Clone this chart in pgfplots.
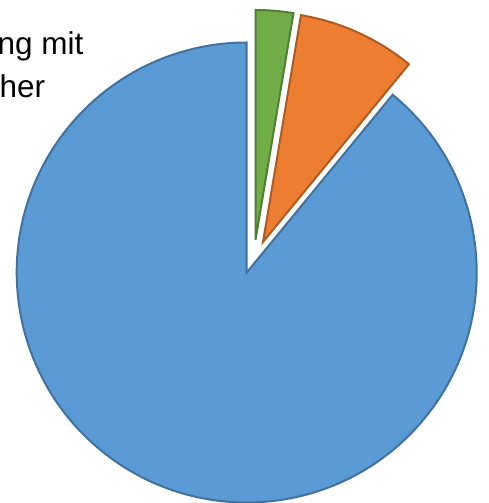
\documentclass[border=0pt]{standalone}
\usepackage{pgfplots}
\pgfplotsset{compat=1.18}
\usepackage{fontspec}
\setmainfont{Liberation Sans}
\definecolor{sblue}{HTML}{5B9BD5}
\definecolor{sorange}{HTML}{ED7D31}
\definecolor{sgreen}{HTML}{70AD47}
\definecolor{bblue}{HTML}{41719C}
\definecolor{borange}{HTML}{AE5A21}
\definecolor{bgreen}{HTML}{507E32}
% slice shares in percent (clockwise from 12 o'clock)
\def\pGreen{2.64}
\def\pOrange{8.30}
\def\pBlue{89.06}
\begin{document}
\begin{tikzpicture}
\begin{axis}[
  at={(0,0)}, anchor=south west,
  width=488pt, height=503pt, scale only axis,
  xmin=0, xmax=488, ymin=0, ymax=503,
  hide axis, clip=false,
]
\pgfmathsetmacro{\aA}{90}
\pgfmathsetmacro{\aB}{90-3.6*\pGreen}
\pgfmathsetmacro{\aC}{\aB-3.6*\pOrange}
\pgfmathsetmacro{\aD}{\aC-3.6*\pBlue}
% blue
\filldraw[fill=sblue, draw=bblue, line width=2pt]
  (axis cs:246.7,230.5) -- ++(\aC:230pt) arc[start angle=\aC, end angle=\aD, radius=230pt] -- cycle;
% orange
\filldraw[fill=sorange, draw=borange, line width=2pt]
  (axis cs:263,261) -- ++(\aB:230pt) arc[start angle=\aB, end angle=\aC, radius=230pt] -- cycle;
% green
\filldraw[fill=sgreen, draw=bgreen, line width=2pt]
  (axis cs:255.5,263) -- ++(\aA:230pt) arc[start angle=\aA, end angle=\aB, radius=230pt] -- cycle;
\node[anchor=base west, inner sep=0pt, font=\fontsize{31.5}{38}\selectfont] at (axis cs:-2.5,448) {ng mit};
\node[anchor=base west, inner sep=0pt, font=\fontsize{31.5}{38}\selectfont] at (axis cs:-0.5,405.7) {her};
\end{axis}
\pgfresetboundingbox
\useasboundingbox (0,0) rectangle (488pt,503pt);
\end{tikzpicture}
\end{document}
